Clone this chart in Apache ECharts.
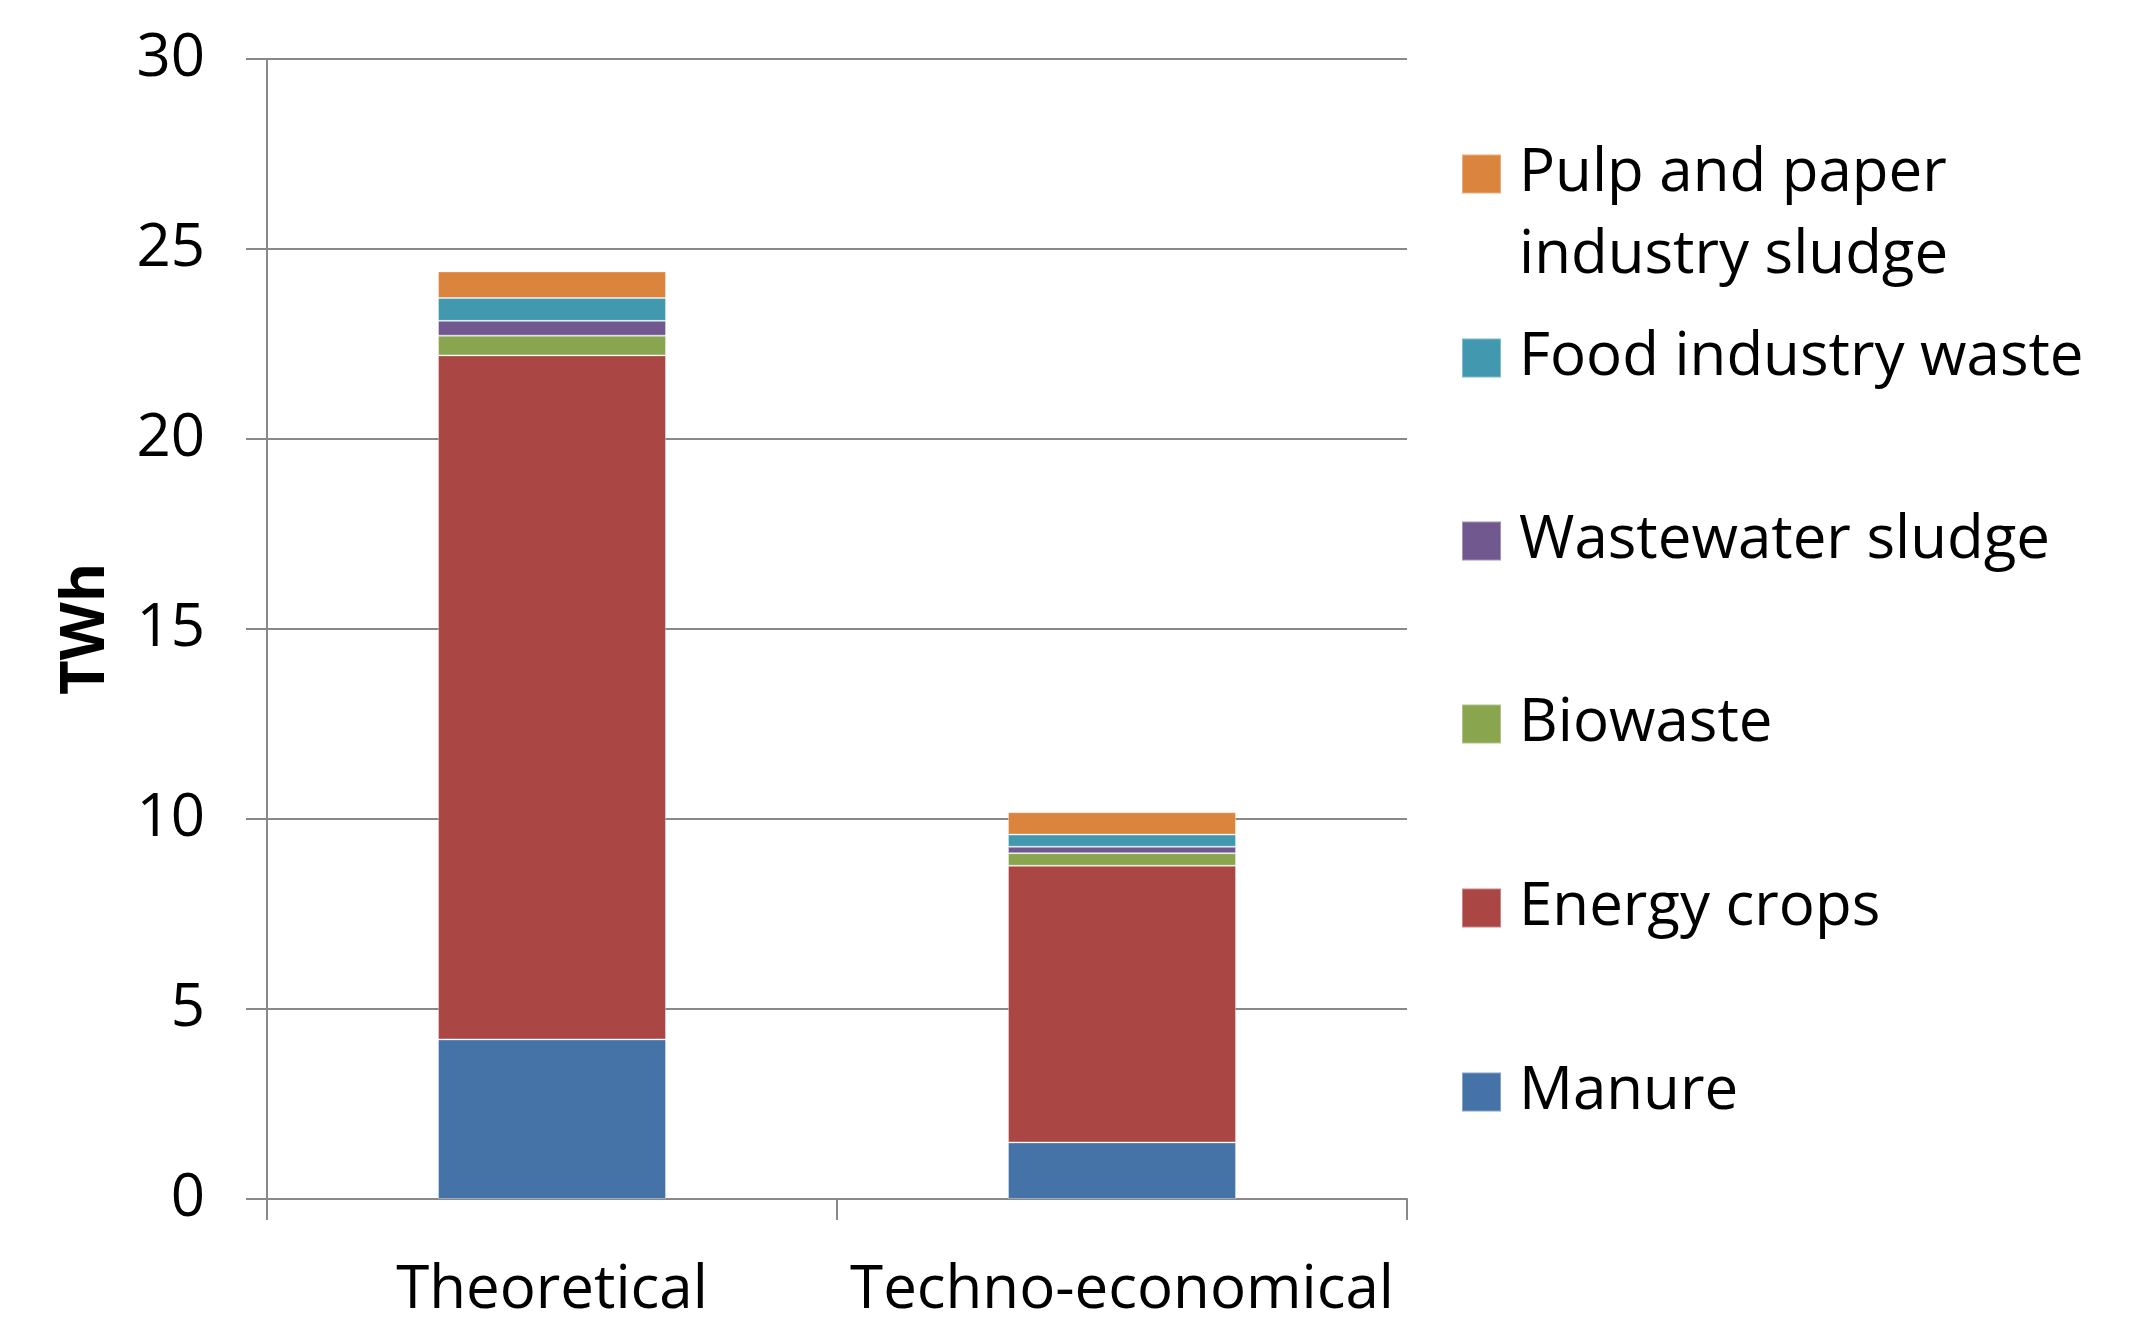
<!DOCTYPE html>
<html>
<head>
<meta charset="utf-8">
<script src="https://cdn.jsdelivr.net/npm/echarts@6/dist/echarts.min.js"></script>
<style>
  html, body { margin: 0; padding: 0; background: #ffffff; }
  #chart { width: 2150px; height: 1322px; }
</style>
</head>
<body>
<div id="chart"></div>
<script>
const categories = ['Theoretical', 'Techno-economical'];
const seriesNames = ['Manure', 'Energy crops', 'Biowaste', 'Wastewater sludge', 'Food industry waste', 'Pulp and paper industry sludge'];
const manure = [4.2, 1.49];
const energyCrops = [18.0, 7.28];
const biowaste = [0.52, 0.33];
const wastewaterSludge = [0.39, 0.17];
const foodIndustryWaste = [0.6, 0.32];
const pulpPaperSludge = [0.7, 0.59];
const yMin = 0, yMax = 30, yStep = 5;
const yAxisTitle = 'TWh';

const colors = ['#4572A7', '#AA4643', '#89A54E', '#71588F', '#4198AF', '#DB843D'];
const values = [manure, energyCrops, biowaste, wastewaterSludge, foodIndustryWaste, pulpPaperSludge];
const FONT = 'Open Sans';
const GRAY = '#898989';

const series = seriesNames.map((name, i) => ({
  name: name,
  type: 'bar',
  stack: 'total',
  barWidth: '40%',
  data: values[i],
  itemStyle: { color: colors[i], borderColor: 'rgba(255,255,255,0.35)', borderWidth: 1 },
  emphasis: { disabled: true }
}));

// legend centres (px) top to bottom: pulp, food, wastewater, biowaste, energy, manure
const legendOrder = [5, 4, 3, 2, 1, 0];
const legendCenters = [174, 358, 541, 724, 908, 1092];
const legends = legendOrder.map((si, k) => {
  const multi = si === 5;
  return {
    data: [{ name: seriesNames[si], icon: 'rect' }],
    orient: 'vertical',
    left: 1461,
    top: multi ? legendCenters[k] - 123 : legendCenters[k] - 30,
    padding: 0,
    itemWidth: 39,
    itemHeight: 39,
    selectedMode: false,
    formatter: multi ? () => '\u00a0\nPulp and paper\nindustry sludge' : undefined,
    textStyle: {
      fontFamily: FONT, fontSize: 60, color: '#000',
      lineHeight: multi ? 82 : 60,
      padding: [0, 0, 0, 13]
    }
  };
});

const chart = echarts.init(document.getElementById('chart'), null, { renderer: 'canvas' });
chart.setOption({
  backgroundColor: '#ffffff',
  animation: false,
  color: colors,
  grid: { left: 267, right: 743, top: 59, bottom: 123, containLabel: false },
  legend: legends,
  xAxis: {
    type: 'category',
    data: categories,
    axisLine: { show: true, lineStyle: { color: GRAY, width: 2 } },
    axisTick: { show: true, length: 21, alignWithLabel: false, lineStyle: { color: GRAY, width: 2 } },
    axisLabel: { fontFamily: FONT, fontSize: 60, color: '#000', margin: 62, interval: 0 },
    splitLine: { show: false }
  },
  yAxis: {
    type: 'value',
    min: yMin, max: yMax, interval: yStep,
    name: yAxisTitle,
    nameLocation: 'middle',
    nameRotate: 90,
    nameGap: 150,
    nameTextStyle: { fontFamily: FONT, fontSize: 60, fontWeight: 'bold', color: '#000' },
    axisLine: { show: true, lineStyle: { color: GRAY, width: 2 } },
    axisTick: { show: true, length: 21, lineStyle: { color: GRAY, width: 2 } },
    axisLabel: { fontFamily: FONT, fontSize: 60, color: '#000', margin: 62 },
    splitLine: { show: true, lineStyle: { color: GRAY, width: 2 } }
  },
  series: series
});
</script>
</body>
</html>
